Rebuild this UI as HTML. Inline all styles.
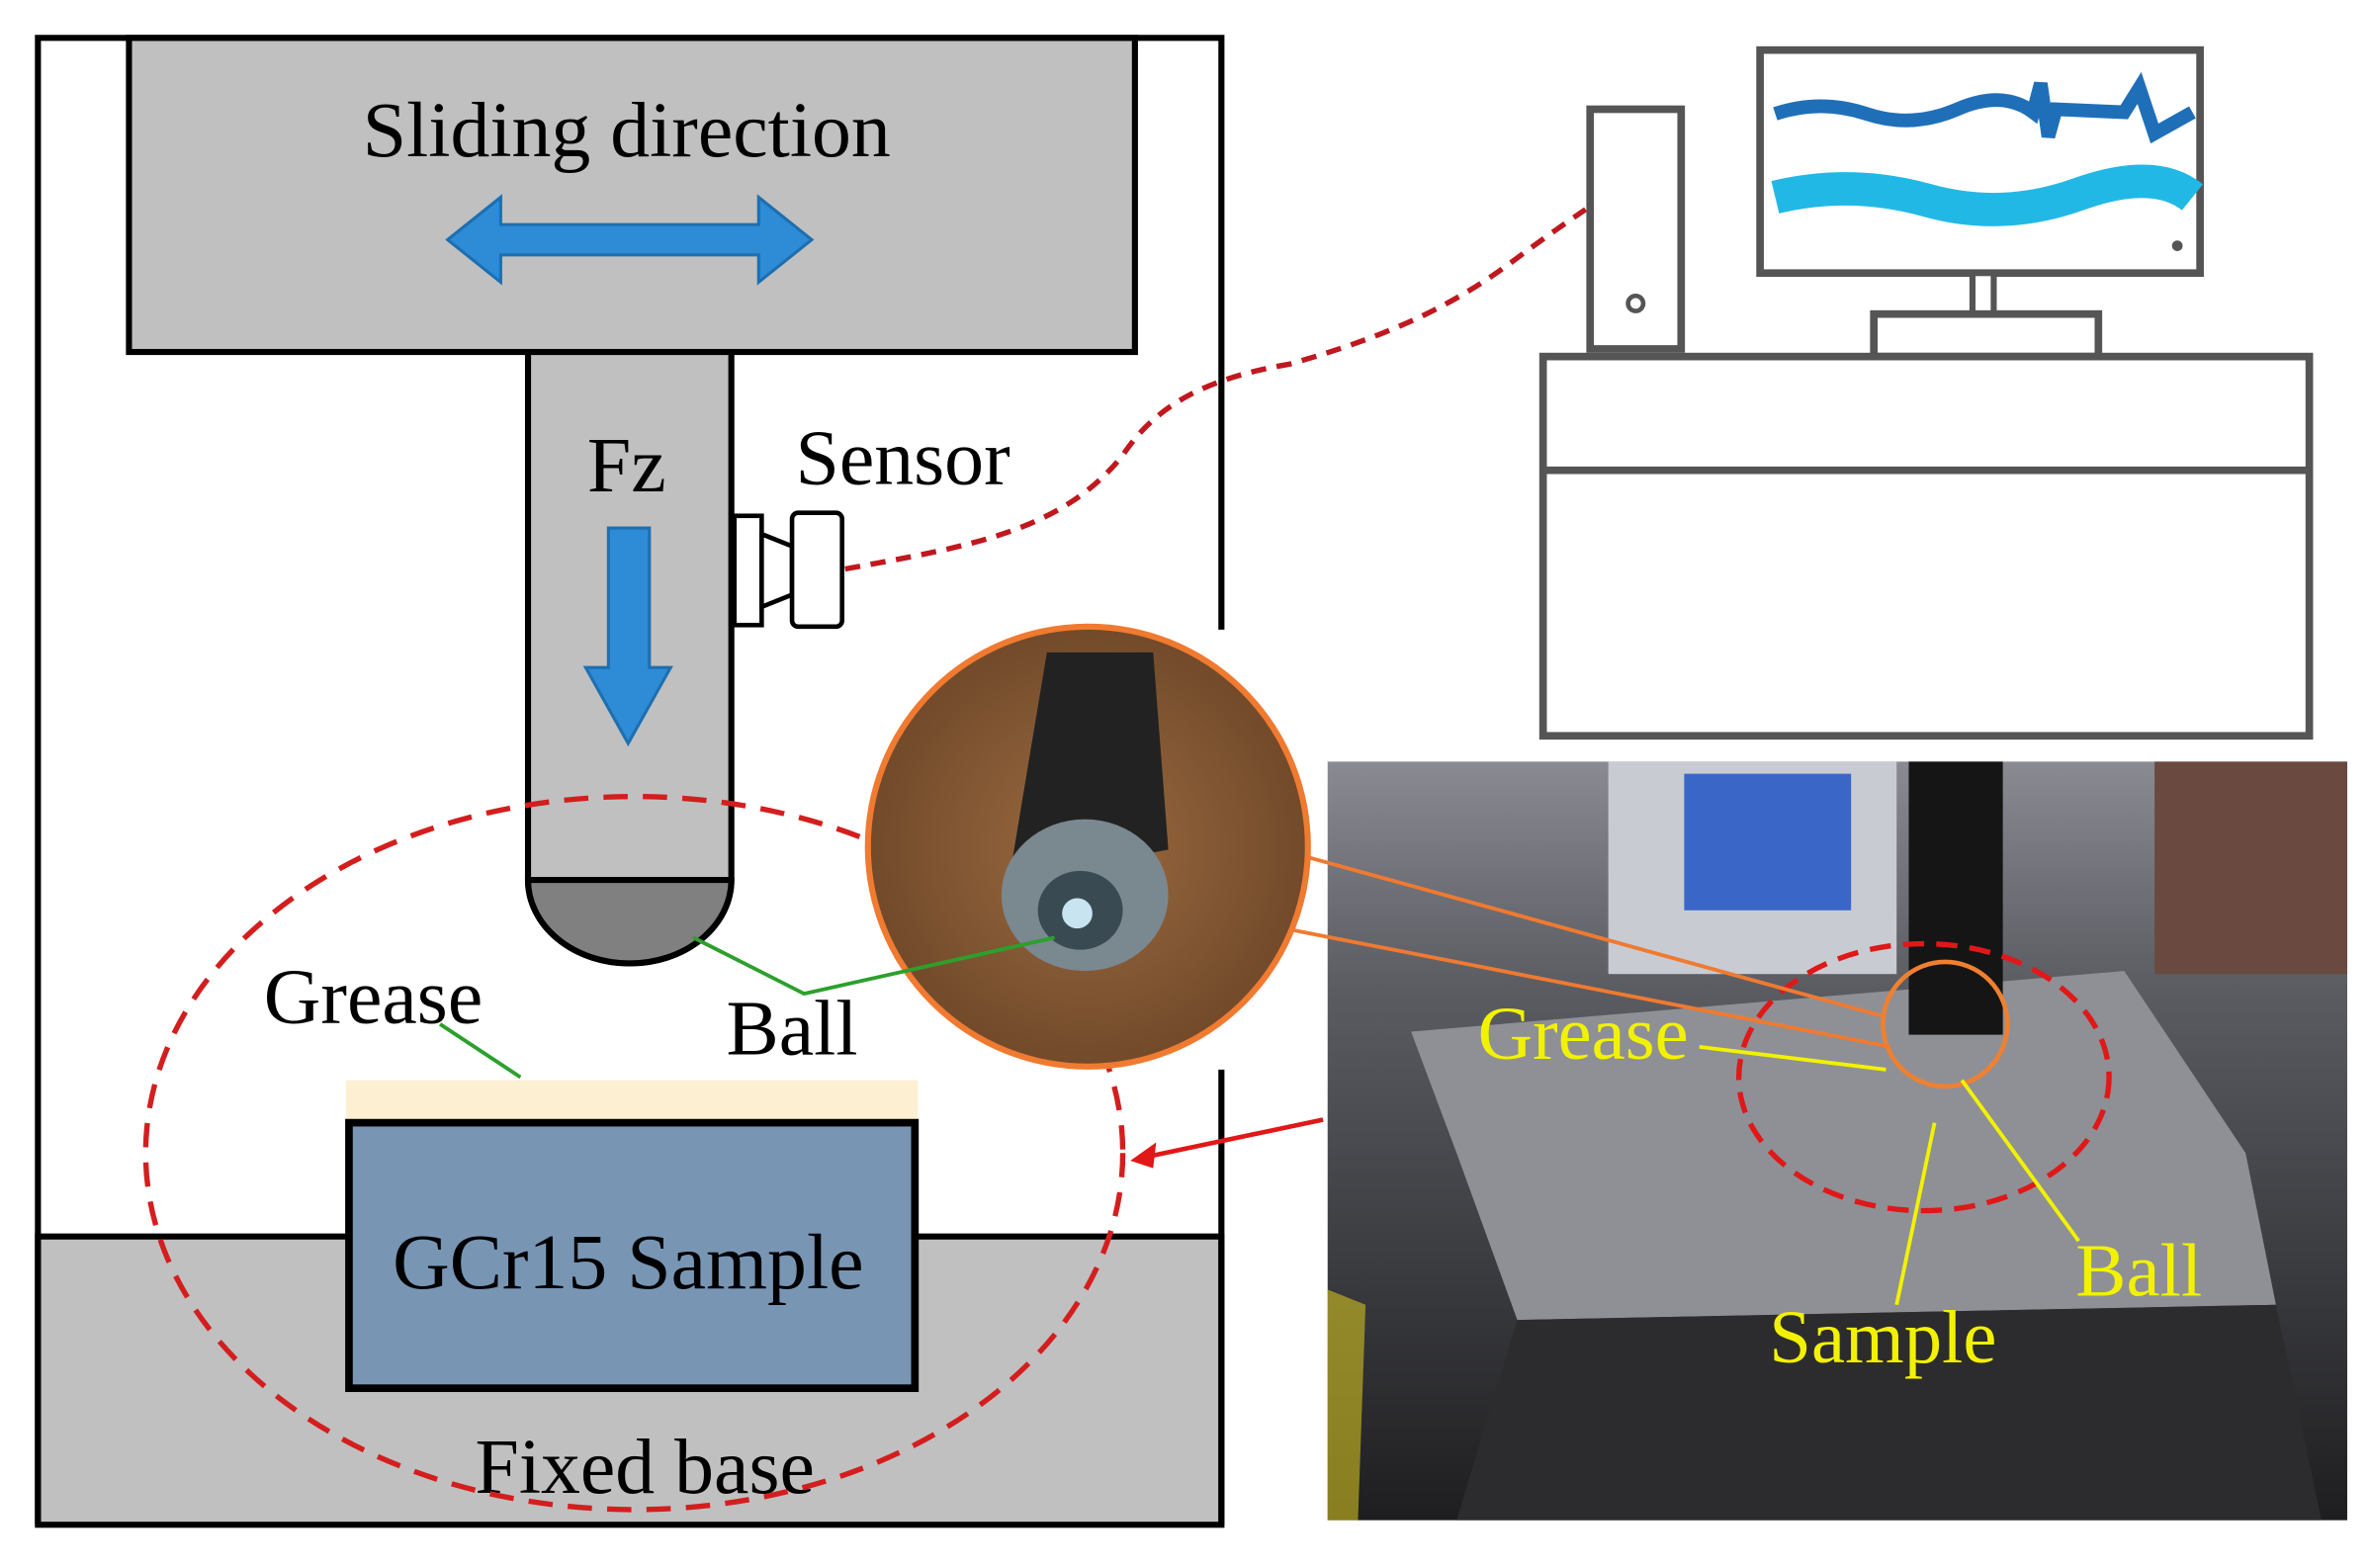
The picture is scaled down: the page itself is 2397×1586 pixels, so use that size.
<!DOCTYPE html>
<html><head><meta charset="utf-8"><style>html,body{margin:0;padding:0;background:#fff}svg{display:block}</style></head>
<body>
<svg width="2397" height="1586" viewBox="0 0 1562 1033.5" preserveAspectRatio="none" xmlns="http://www.w3.org/2000/svg" font-family="'Liberation Serif',serif">
<defs>
<radialGradient id="cg" cx="0.5" cy="0.5" r="0.6"><stop offset="0" stop-color="#9a6a40"/><stop offset="1" stop-color="#6a4426"/></radialGradient>
<linearGradient id="pg" x1="0" y1="0" x2="0" y2="1"><stop offset="0" stop-color="#8a8a92"/><stop offset="0.3" stop-color="#5a5c62"/><stop offset="1" stop-color="#1e1e20"/></linearGradient>
</defs>
<rect x="25" y="815" width="780" height="190" fill="#c0c0c0" stroke="#000" stroke-width="4"/>
<path d="M25 1005 V25 H805 V415 M805 705 V1005" fill="none" stroke="#000" stroke-width="4"/>
<rect x="85" y="25" width="663" height="207" fill="#c0c0c0" stroke="#000" stroke-width="4"/>
<text x="413" y="103" font-size="52" text-anchor="middle">Sliding direction</text>
<path d="M295 158 L330 130 V148 H500 V130 L535 158 L500 186 V168 H330 V186 Z" fill="#2e8bd6" stroke="#1d6fb0" stroke-width="2"/>
<path d="M348 232 V580 A67 55 0 0 0 482 580 V232 Z" fill="#c0c0c0" stroke="#000" stroke-width="4"/>
<path d="M348 580 A67 55 0 0 0 482 580 Z" fill="#808080" stroke="#000" stroke-width="4"/>
<text x="413" y="324" font-size="52" text-anchor="middle">Fz</text>
<path d="M401 348 H428 V440 H442 L414 490 L386 440 H401 Z" fill="#2e8bd6" stroke="#1d6fb0" stroke-width="2"/>
<rect x="484" y="340" width="18" height="72" fill="#fff" stroke="#000" stroke-width="3"/>
<path d="M502 352 L522 360 V392 L502 400 Z" fill="#fff" stroke="#000" stroke-width="3"/>
<rect x="522" y="338" width="33" height="75" rx="4" fill="#fff" stroke="#000" stroke-width="3"/>
<text x="595" y="319" font-size="52" text-anchor="middle">Sensor</text>
<path d="M557 375 C640 360 700 350 740 300 C760 270 790 250 850 240 C920 220 960 200 1000 170 C1020 155 1035 145 1045 138" fill="none" stroke="#c0181e" stroke-width="3.5" stroke-dasharray="10 7"/>
<rect x="1048" y="72" width="60" height="158" fill="#fff" stroke="#555" stroke-width="5"/>
<circle cx="1078" cy="200" r="5" fill="none" stroke="#555" stroke-width="3"/>
<rect x="1160" y="33" width="290" height="147" fill="#fff" stroke="#555" stroke-width="5"/>
<path d="M1170 75 Q1200 65 1230 75 T1290 72 T1340 74 L1345 55 L1350 90 L1355 72 T1400 74 L1410 58 L1420 88 L1445 74" fill="none" stroke="#1f6fb8" stroke-width="9"/>
<path d="M1170 130 Q1220 118 1270 132 T1370 128 T1445 130" fill="none" stroke="#22b8e6" stroke-width="22"/>
<circle cx="1435" cy="162" r="3.5" fill="#555"/>
<rect x="1300" y="180" width="14" height="27" fill="#fff" stroke="#555" stroke-width="4"/>
<rect x="1235" y="207" width="148" height="28" fill="#fff" stroke="#555" stroke-width="5"/>
<rect x="1017" y="235" width="505" height="250" fill="#fff" stroke="#555" stroke-width="5"/>
<line x1="1017" y1="310" x2="1522" y2="310" stroke="#555" stroke-width="5"/>
<rect x="228" y="712" width="377" height="26" fill="#fdf0d2"/>
<rect x="230" y="740" width="373" height="175" fill="#7896b4" stroke="#000" stroke-width="5"/>
<text x="414" y="849" font-size="52" text-anchor="middle">GCr15 Sample</text>
<text x="425" y="984" font-size="52" text-anchor="middle">Fixed base</text>
<text x="246" y="674" font-size="52" text-anchor="middle">Grease</text>
<text x="522" y="695" font-size="52" text-anchor="middle">Ball</text>
<path d="M290 675 L343 710" stroke="#2ca02c" stroke-width="2.5" fill="none"/>
<ellipse cx="418" cy="760" rx="322" ry="235" fill="none" stroke="#d41e1e" stroke-width="3.5" stroke-dasharray="16 10"/>
<rect x="875" y="502" width="672" height="500" fill="url(#pg)"/>
<rect x="1060" y="502" width="190" height="140" fill="#c8ccd2"/>
<rect x="1110" y="510" width="110" height="90" fill="#3a66c8"/>
<rect x="1420" y="502" width="127" height="140" fill="#6a4a40"/>
<path d="M930 680 L1400 640 L1480 760 L1500 860 L1000 870 L960 760 Z" fill="#8e9096"/>
<path d="M1000 870 L1500 860 L1530 1002 L960 1002 Z" fill="#2c2c2e"/>
<rect x="1258" y="502" width="62" height="180" fill="#151515"/>
<path d="M875 850 L900 860 L895 1002 L875 1002 Z" fill="#d0c020" opacity="0.6"/>
<ellipse cx="1268" cy="710" rx="122" ry="88" fill="none" stroke="#e01818" stroke-width="3.5" stroke-dasharray="14 8"/>
<circle cx="1282" cy="675" r="41" fill="none" stroke="#f08030" stroke-width="3"/>
<g fill="#f2f200" font-size="50">
<text x="974" y="698">Grease</text>
<text x="1368" y="854">Ball</text>
<text x="1166" y="898">Sample</text>
</g>
<g stroke="#f2f200" stroke-width="2.5" fill="none">
<path d="M1120 690 L1243 705"/><path d="M1275 740 L1250 860"/><path d="M1293 712 L1370 818"/>
</g>
<circle cx="717" cy="558" r="145" fill="url(#cg)" stroke="#f07a30" stroke-width="4"/>
<path d="M690 430 L760 430 L770 560 L665 580 Z" fill="#222"/>
<ellipse cx="715" cy="590" rx="55" ry="50" fill="#7a8890"/>
<ellipse cx="712" cy="600" rx="28" ry="26" fill="#3a4a52"/>
<circle cx="710" cy="602" r="10" fill="#c8e4f0"/>
<path d="M457 618 L530 655 L695 618" stroke="#2ca02c" stroke-width="2.5" fill="none"/>
<path d="M862 565 L1242 670 M852 613 L1246 690" stroke="#f07a30" stroke-width="2.5"/>
<path d="M872 738 L758 762" stroke="#e01818" stroke-width="3"/>
<path d="M745 765 L762 753 L760 770 Z" fill="#e01818"/>
</svg>
</body></html>
